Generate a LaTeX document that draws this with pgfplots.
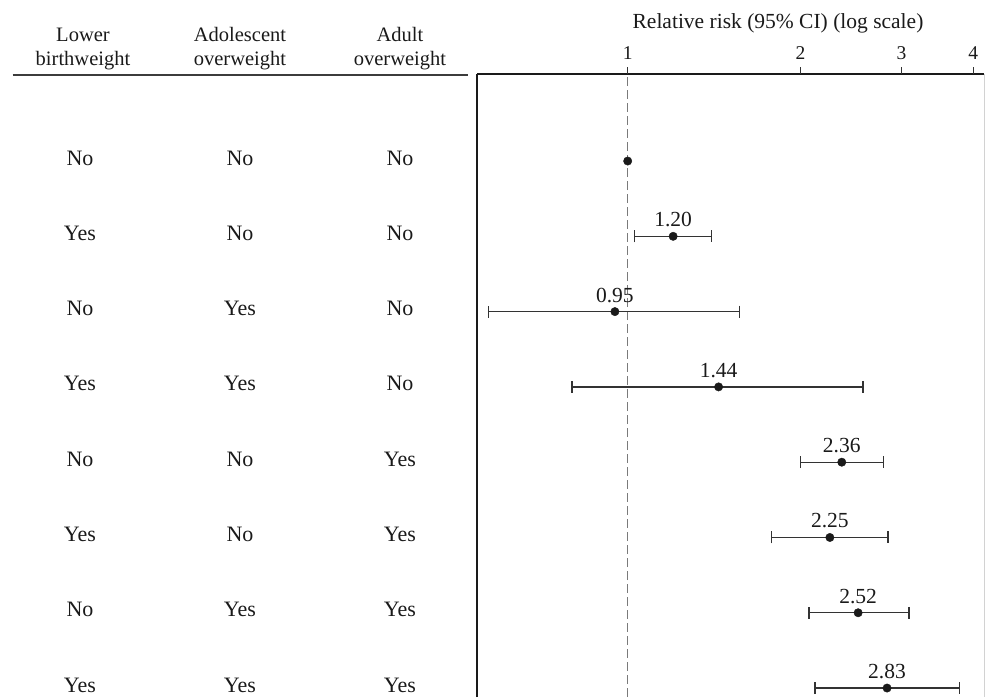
\documentclass[border=0pt]{standalone}
\usepackage{fontspec}
\setmainfont{Liberation Serif}
\usepackage{pgfplots}
\usepackage{pgfplotstable}
\pgfplotsset{compat=1.18}
\definecolor{ink}{HTML}{1A1A1A}
\definecolor{barc}{HTML}{333333}
\definecolor{dashc}{HTML}{7A7A7A}

% row = minus the row number (row 1 at top)
\pgfplotstableread{
row rr lo hi lab
-2 1.20 1.027 1.40 1.20
-3 0.95 0.572 1.565 0.95
-4 1.44 0.80 2.57 1.44
-5 2.36 2.00 2.79 2.36
-6 2.25 1.78 2.84 2.25
-7 2.52 2.07 3.09 2.52
-8 2.83 2.12 3.78 2.83
}\ci

\newcommand\rowfont{\fontsize{22}{26}\selectfont}
\newcommand\hdfont{\fontsize{20.5}{24}\selectfont}
\newcommand\tkfont{\fontsize{19.5}{22}\selectfont}

\begin{document}
\begin{tikzpicture}[x=1pt,y=1pt]
\path[use as bounding box] (0,0) rectangle (986,-697);
\begin{axis}[name=ax, at={(477pt,-74pt)}, anchor=north west,
  scale only axis, width=507.3pt, height=623pt,
  xmode=log, xmin=0.5464, xmax=4.18,
  ymin=-8.119, ymax=0.156,
  axis x line*=top, axis y line*=left,
  x axis line style={ink, line width=1.4pt, -},
  y axis line style={ink, line width=2pt, -},
  xtick=\empty, ytick=\empty, minor xtick={},
  clip=false]
\addplot[dashc, line width=1.5pt, dash pattern=on 9pt off 4pt] coordinates {(1,-8.119) (1,0.156)};
% tick marks on the top axis (7px = 0.093 row units)
\addplot[barc, line width=1.3pt, forget plot] coordinates {(1,0.156) (1,0.249)};
\addplot[barc, line width=1.3pt, forget plot] coordinates {(2,0.156) (2,0.249)};
\addplot[barc, line width=1.3pt, forget plot] coordinates {(3,0.156) (3,0.249)};
\addplot[barc, line width=1.3pt, forget plot] coordinates {(4,0.156) (4,0.249)};
\node[anchor=base, inner sep=0pt, yshift=15pt, font=\tkfont, text=ink] at (axis cs:1,0.156) {1};
\node[anchor=base, inner sep=0pt, yshift=15pt, font=\tkfont, text=ink] at (axis cs:2,0.156) {2};
\node[anchor=base, inner sep=0pt, yshift=15pt, font=\tkfont, text=ink] at (axis cs:3,0.156) {3};
\node[anchor=base, inner sep=0pt, yshift=15pt, font=\tkfont, text=ink] at (axis cs:4,0.156) {4};
\addplot[only marks, mark=*, mark size=4.2pt, color=ink, mark options={fill=ink},
  error bars/.cd, x dir=both, x explicit,
  error bar style={barc, line width=1.3pt},
  error mark options={rotate=90, mark size=6pt, barc, line width=1.3pt}]
  table[x=rr, y=row, x error plus expr=\thisrow{hi}-\thisrow{rr}, x error minus expr=\thisrow{rr}-\thisrow{lo}] {\ci};
\addplot[only marks, mark=none, nodes near coords, point meta=explicit symbolic,
  every node near coord/.append style={anchor=base, yshift=9.5pt, inner sep=0pt,
    font=\fontsize{21.5}{24}\selectfont, text=ink}]
  table[x=rr, y=row, meta=lab] {\ci};
\addplot[only marks, mark=*, mark size=4.2pt, color=ink, mark options={fill=ink}] coordinates {(1,-1)};
\end{axis}
\draw[gray!35, line width=1pt] (ax.north east) -- (ax.south east);
% left table
\draw[ink!85, line width=1.3pt] (12.7,-75) -- (468,-75);
\foreach \x/\la/\lb in {83/Lower/birthweight, 240/Adolescent/overweight, 400/Adult/overweight}{
  \node[anchor=base, inner sep=0pt, font=\hdfont, text=ink] at (\x,-41) {\la};
  \node[anchor=base, inner sep=0pt, font=\hdfont, text=ink] at (\x,-65) {\lb};
}
\foreach \a/\b/\c [count=\i] in {No/No/No, Yes/No/No, No/Yes/No, Yes/Yes/No, No/No/Yes, Yes/No/Yes, No/Yes/Yes, Yes/Yes/Yes}{
  \pgfmathsetmacro\yy{-161-(\i-1)*75.29-4}
  \node[anchor=base, inner sep=0pt, font=\rowfont, text=ink] at (80,\yy) {\a};
  \node[anchor=base, inner sep=0pt, font=\rowfont, text=ink] at (240,\yy) {\b};
  \node[anchor=base, inner sep=0pt, font=\rowfont, text=ink] at (400,\yy) {\c};
}
\node[anchor=base, inner sep=0pt, font=\fontsize{21.5}{24}\selectfont, text=ink] at (778,-28.3) {Relative risk (95\% CI) (log scale)};
\end{tikzpicture}
\end{document}
